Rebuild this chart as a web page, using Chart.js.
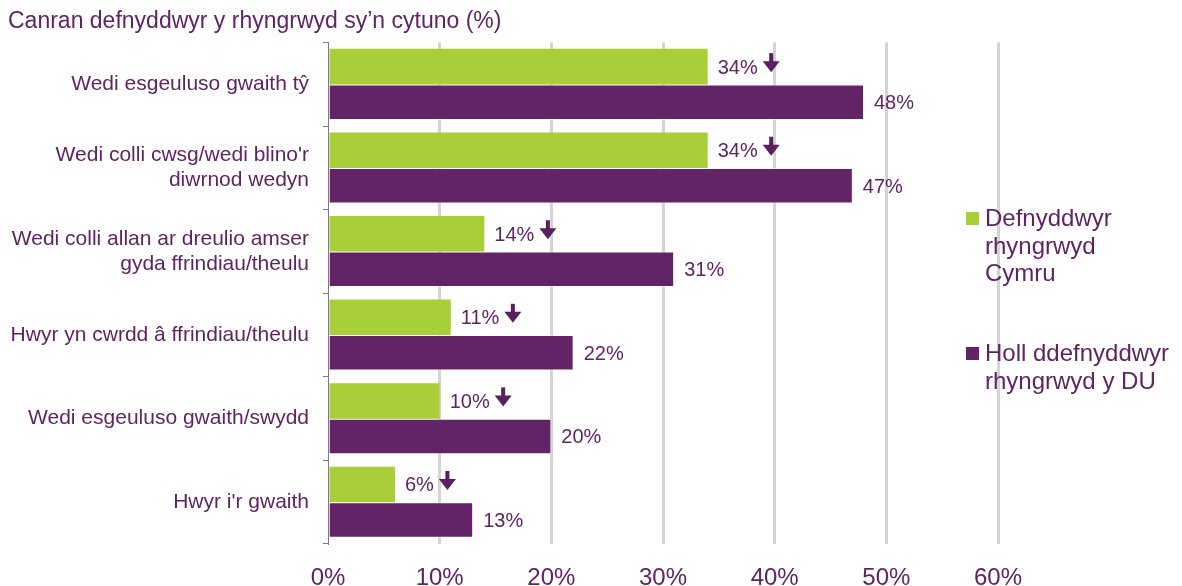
<!DOCTYPE html>
<html>
<head>
<meta charset="utf-8">
<script src="https://cdn.jsdelivr.net/npm/chart.js@4"></script>
<style>
  body { margin: 0; background: #fff; }
  #wrap { position: relative; width: 1182px; height: 586px; }
  #legend { position: absolute; left: 966px; top: 0; font-family: "Liberation Sans", Arial, sans-serif; font-size: 24px; line-height: 27.5px; color: #5f2463; }
  .item { position: absolute; left: 0; white-space: nowrap; }
  .swatch { position: absolute; left: 0; width: 13px; height: 13px; top: 8px; }
  .txt { position: absolute; left: 19px; }
</style>
</head>
<body>
<div id="wrap">
  <canvas id="chart"></canvas>
  <div id="legend"></div>
</div>
<script>
// Values
const categories = [
  'Wedi esgeuluso gwaith tŷ',
  ["Wedi colli cwsg/wedi blino'r", 'diwrnod wedyn'],
  ['Wedi colli allan ar dreulio amser', 'gyda ffrindiau/theulu'],
  'Hwyr yn cwrdd â ffrindiau/theulu',
  'Wedi esgeuluso gwaith/swydd',
  "Hwyr i'r gwaith"
];
const walesUsers = [34, 34, 14, 11, 10, 6];
const ukUsers = [48, 47, 31, 22, 20, 13];
// down arrow = significantly lower than the UK
const walesLower = [true, true, true, true, true, true];
const seriesNames = [
  ['Defnyddwyr', 'rhyngrwyd', 'Cymru'],
  ['Holl ddefnyddwyr', 'rhyngrwyd y DU']
];
const xTicks = [0, 10, 20, 30, 40, 50, 60];

const green = '#a9cf38';
const purple = '#622466';
const textPurple = '#5f2463';
const font = '"Liberation Sans", Arial, sans-serif';

// value labels + arrows on the ends of the bars
const barLabels = {
  id: 'barLabels',
  afterDatasetsDraw(chart) {
    const ctx = chart.ctx;
    ctx.save();
    ctx.font = '20px ' + font;
    ctx.textBaseline = 'middle';
    ctx.textAlign = 'left';
    chart.data.datasets.forEach((ds, i) => {
      const meta = chart.getDatasetMeta(i);
      meta.data.forEach((bar, j) => {
        const txt = ds.data[j] + '%';
        const tx = bar.x + 10;
        ctx.fillStyle = textPurple;
        ctx.fillText(txt, tx, bar.y + 1.5);
        if (i === 0 && walesLower[j]) {
          const cx = tx + ctx.measureText(txt).width + 5 + 8.5;
          const y = bar.y;
          ctx.fillStyle = '#5a1f5c';
          ctx.fillRect(cx - 2, y - 13.5, 4, 9);
          ctx.beginPath();
          ctx.moveTo(cx - 8.5, y - 5.5);
          ctx.lineTo(cx + 8.5, y - 5.5);
          ctx.lineTo(cx, y + 5.5);
          ctx.closePath();
          ctx.fill();
        }
      });
    });
    ctx.restore();
  }
};

new Chart(document.getElementById('chart'), {
  type: 'bar',
  data: {
    labels: categories,
    datasets: [
      {
        label: seriesNames[0].join(' '),
        data: walesUsers,
        backgroundColor: green,
        categoryPercentage: 0.85,
        barPercentage: 1
      },
      {
        label: seriesNames[1].join(' '),
        data: ukUsers,
        backgroundColor: purple,
        borderColor: 'rgba(255,255,255,0.5)',
        borderWidth: 1,
        categoryPercentage: 0.85,
        barPercentage: 1
      }
    ]
  },
  options: {
    indexAxis: 'y',
    responsive: true,
    maintainAspectRatio: false,
    animation: false,
    layout: { padding: { left: 8, right: 184, top: 0, bottom: 0 } },
    scales: {
      x: {
        min: 0,
        max: 60,
        afterBuildTicks: scale => { scale.ticks = xTicks.map(v => ({ value: v })); },
        afterFit: scale => { scale.height = 42; },
        border: { display: false },
        grid: {
          color: ctx => ctx.index === 0 ? 'rgba(0,0,0,0)' : '#d4d4d4',
          lineWidth: 3,
          drawTicks: false
        },
        ticks: {
          color: textPurple,
          font: { family: font, size: 24, lineHeight: 1 },
          padding: 22,
          callback: v => v + '%'
        }
      },
      y: {
        afterFit: scale => {
          scale.width = 320;
          scale.paddingTop = 0;
          scale.paddingBottom = 0;
        },
        border: { display: true, color: '#8e6f90', width: 1 },
        grid: {
          offset: true,
          drawOnChartArea: false,
          drawTicks: true,
          tickLength: 5,
          color: '#8e6f90'
        },
        ticks: {
          color: textPurple,
          font: { family: font, size: 21, lineHeight: 1.2 },
          padding: 14
        }
      }
    },
    plugins: {
      legend: { display: false },
      tooltip: { enabled: false },
      title: {
        display: true,
        text: 'Canran defnyddwyr y rhyngrwyd sy’n cytuno (%)',
        align: 'start',
        color: textPurple,
        font: { family: font, size: 23, weight: 'normal', lineHeight: 1.2 },
        padding: { top: 8, bottom: 7 }
      }
    }
  },
  plugins: [barLabels]
});

// legend with wrapped series names
const legend = document.getElementById('legend');
const legendTops = [204, 339];
const legendColors = [green, purple];
seriesNames.forEach((lines, i) => {
  const item = document.createElement('div');
  item.className = 'item';
  item.style.top = legendTops[i] + 'px';
  const sw = document.createElement('div');
  sw.className = 'swatch';
  sw.style.background = legendColors[i];
  const txt = document.createElement('div');
  txt.className = 'txt';
  txt.innerHTML = lines.join('<br>');
  item.appendChild(sw);
  item.appendChild(txt);
  legend.appendChild(item);
});
</script>
</body>
</html>
